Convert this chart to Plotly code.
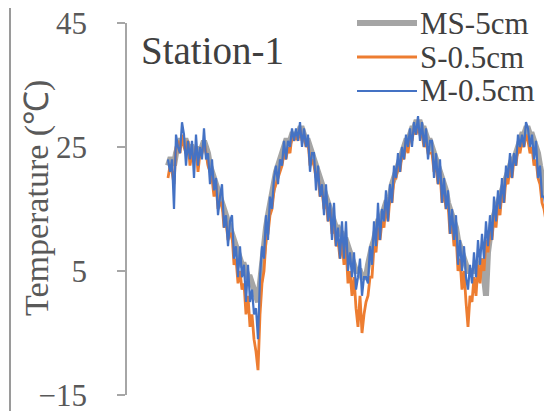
import plotly.graph_objects as go

# ---- data (samples across four annual cycles) ----
ms_5cm = [22, 23, 23, 22, 24, 25, 26, 26, 26, 26, 25, 25, 25, 24, 25, 24, 24, 25, 26, 25,
          24, 22, 21, 20, 19, 18, 17, 16, 15, 14, 13, 12, 11, 10, 9, 8, 7, 6, 6, 5,
          4, 4, 3, 2, 1, 0,
          3, 7, 10, 12, 14, 16, 18, 19, 21, 22, 23, 24, 25, 26, 26, 26, 27, 27, 27, 27, 28,
          28, 27, 26, 26, 25, 24, 23, 22, 21, 20, 19, 18, 17, 16, 15, 14, 13, 12, 12, 11,
          11, 10, 10, 9, 8, 7, 6, 5, 5, 5, 4, 4, 4,
          6, 8, 9, 10, 12, 13, 13, 14, 15, 16, 16, 17, 19, 20, 21, 22, 23, 24, 25, 26,
          26, 27, 28, 28, 29, 29,
          29, 28, 28, 27, 26, 26, 25, 24, 23, 22, 21, 20, 19, 18, 16, 15, 14, 13, 12, 10,
          9, 8, 7, 6, 5, 5,
          5, 5, 6, 6, 6, 7, 4, 1, 8, 12, 13, 14, 15, 16, 17, 18, 19, 20, 21, 22,
          23, 23, 24, 25, 26, 27, 27, 28, 28,
          27, 27, 26, 25, 24, 22, 20, 18, 17]
s_05cm = [20, 22, 21, 19, 25, 26, 24, 27, 25, 24, 26, 22, 24, 23, 25, 21, 24, 24, 26, 24,
          22, 21, 20, 17, 19, 15, 16, 16, 12, 13, 10, 11, 11, 6, 7, 3, 5, 2, 3, -2,
          1, -4, -2, -6, -8, -11,
          -2, 3, 5, 10, 11, 14, 15, 18, 19, 20, 21, 22, 24, 23, 25, 24, 27, 26, 27, 26, 28,
          26, 27, 25, 26, 22, 23, 22, 20, 21, 17, 18, 15, 17, 13, 15, 11, 13, 9, 10, 7,
          10, 6, 9, 3, 5, 1, 4, -1, -4, 1, -5, -2, 0,
          1, 4, 4, 9, 8, 12, 10, 13, 12, 16, 13, 17, 16, 20, 20, 22, 21, 24, 23, 26,
          24, 27, 26, 28, 27, 28,
          27, 27, 25, 26, 24, 24, 24, 21, 22, 19, 21, 16, 18, 15, 16, 11, 13, 9, 11, 5,
          7, 2, 5, 0, -4, 1,
          0, 4, 1, 6, 3, 7, 5, 10, 8, 12, 10, 14, 12, 16, 14, 18, 16, 20, 19, 22,
          20, 23, 22, 25, 24, 26, 25, 27, 26,
          24, 25, 22, 23, 20, 19, 16, 15, 13]
m_05cm = [23, 21, 23, 15, 27, 25, 24, 29, 27, 22, 26, 23, 26, 20, 27, 22, 25, 23, 28, 23,
          24, 19, 23, 18, 20, 14, 17, 19, 12, 14, 9, 13, 14, 7, 9, 4, 9, 4, 6, 0,
          6, 0, 2, -2, -1, -6,
          4, 9, 7, 14, 10, 17, 15, 20, 22, 19, 23, 22, 26, 23, 26, 25, 28, 26, 28, 26, 29,
          25, 28, 25, 27, 21, 24, 24, 18, 22, 17, 19, 14, 19, 13, 16, 10, 16, 9, 12, 7,
          13, 7, 13, 5, 8, 4, 8, 2, 4, 7, 1, 4, 4,
          3, 9, 6, 13, 9, 16, 10, 15, 13, 18, 13, 19, 16, 22, 20, 24, 21, 25, 23, 27,
          25, 28, 25, 29, 27, 30,
          26, 29, 25, 28, 23, 26, 26, 20, 24, 19, 23, 16, 20, 15, 18, 11, 15, 10, 14, 6,
          10, 5, 9, 4, 2, 6,
          3, 8, 4, 10, 6, 11, 7, 13, 9, 14, 10, 17, 13, 18, 15, 20, 16, 22, 20, 24,
          20, 24, 22, 27, 25, 27, 25, 29, 28,
          25, 27, 23, 26, 20, 22, 17, 17, 15]
series_names = ["MS-5cm", "S-0.5cm", "M-0.5cm"]
y_ticks = [-15, 5, 25, 45]
station_label = "Station-1"
y_title = "Temperature (℃)"

colors = ["#A5A5A5", "#ED7D31", "#4472C4"]
widths = [6, 2.8, 2.2]

fig = go.Figure()
for name, vals, c, w in zip(series_names, [ms_5cm, s_05cm, m_05cm], colors, widths):
    fig.add_trace(go.Scatter(x=list(range(len(vals))), y=vals, mode="lines", name=name,
                             line=dict(color=c, width=w), showlegend=False))

# The page body has an 8px default margin, so the figure is drawn 8px in from the
# top-left of the window; all target positions below are window pixels.
OFF = 8
W, H = 552 - OFF, 411 - OFF
L, R, T, B = 127 - OFF, 552 - OFF, 23 - OFF, 395 - OFF
def px(x):
    return (x - OFF - L) / (R - L)
def py(y):
    return (B - (y - OFF)) / (B - T)

serif = "Liberation Serif, Times New Roman, serif"

fig.update_layout(
    width=W, height=H,
    margin=dict(l=L, r=W - R, t=T, b=H - B, autoexpand=False),
    paper_bgcolor="white", plot_bgcolor="white",
    xaxis=dict(range=[-20.5, 192], visible=False, showgrid=False, zeroline=False),
    yaxis=dict(range=[-15, 45], tickvals=y_ticks, showgrid=False, zeroline=False,
               automargin=False, ticklabeloverflow="allow",
               showline=True, linecolor="#A6A6A6", linewidth=1.5,
               ticks="outside", ticklen=8, tickcolor="#A6A6A6", tickwidth=1.5,
               ticklabelstandoff=24,
               tickfont=dict(family=serif, size=31, color="#595959")),
)

fig.add_annotation(text=y_title, xref="paper", yref="paper", x=px(37), y=py(198),
                   textangle=-90, showarrow=False, xanchor="center", yanchor="middle",
                   font=dict(family=serif, size=34, color="#595959"))
fig.add_annotation(text=station_label, xref="paper", yref="paper", x=px(139), y=py(50),
                   showarrow=False, xanchor="left", yanchor="middle",
                   font=dict(family=serif, size=39, color="#404040"))

leg_y = [23, 57, 91]
for name, c, w, yy in zip(series_names, colors, widths, leg_y):
    fig.add_shape(type="line", xref="paper", yref="paper",
                  x0=px(357), x1=px(417), y0=py(yy), y1=py(yy),
                  line=dict(color=c, width=w))
    fig.add_annotation(text=name, xref="paper", yref="paper", x=px(418), y=py(yy),
                       showarrow=False, xanchor="left", yanchor="middle",
                       font=dict(family=serif, size=31, color="#404040"))

fig.add_shape(type="line", xref="paper", yref="paper", x0=px(10), x1=px(10),
              y0=py(3), y1=py(411), line=dict(color="#9A9A9A", width=2))

fig.write_html("out.html")
